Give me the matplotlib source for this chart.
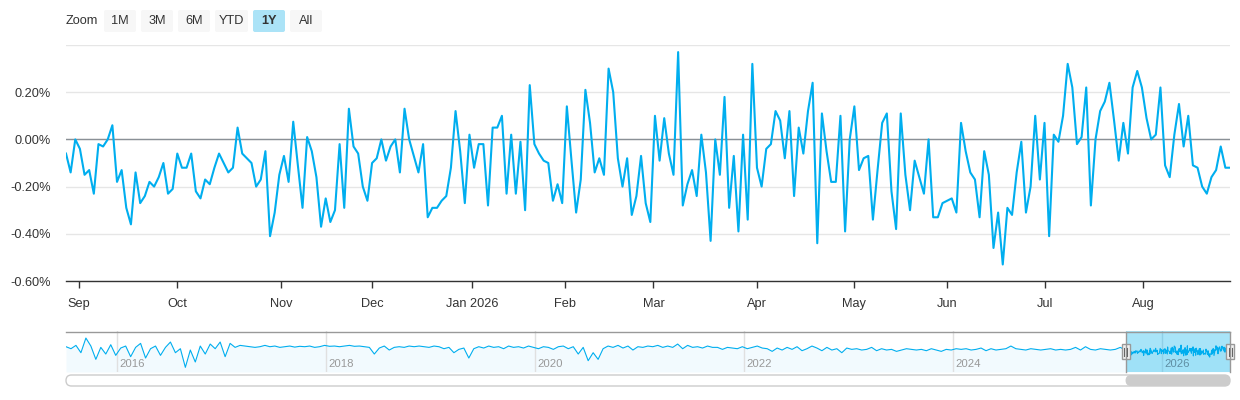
import numpy as np
import pandas as pd
import matplotlib
matplotlib.use('Agg')
import matplotlib.pyplot as plt
import matplotlib.dates as mdates
from matplotlib.patches import FancyBboxPatch, Rectangle

plt.rcParams['font.family'] = ['Liberation Sans', 'DejaVu Sans']

# daily spread in %, one value per NYSE trading day (27 Aug 2025 - 27 Aug 2026)
spread = [
    -0.06, -0.14, 0.00, -0.04, -0.15, -0.13, -0.23, -0.02, -0.03, 0.00, 0.06, -0.18,
    -0.13, -0.29, -0.36, -0.14, -0.27, -0.24, -0.18, -0.20, -0.16, -0.10, -0.23, -0.21,
    -0.06, -0.12, -0.12, -0.06, -0.22, -0.25, -0.17, -0.19, -0.12, -0.06, -0.10, -0.14,
    -0.12, 0.05, -0.06, -0.08, -0.10, -0.20,
    -0.17, -0.05, -0.41, -0.31, -0.15, -0.07, -0.18, 0.075, -0.11, -0.29, 0.01, -0.05,
    -0.16, -0.37, -0.25, -0.35, -0.30, -0.02, -0.29, 0.13, -0.03, -0.06, -0.20, -0.26,
    -0.10, -0.08, 0.00, -0.09, -0.03, 0.00, -0.14, 0.13, 0.00, -0.07, -0.14, -0.02,
    -0.33, -0.29, -0.29, -0.26, -0.24,
    -0.12, 0.12, -0.05, -0.27, 0.02, -0.12, -0.02, -0.02, -0.28, 0.05, 0.05, 0.10,
    -0.23, 0.02, -0.23, -0.01, -0.30, 0.23, -0.02, -0.06, -0.09, -0.10, -0.26, -0.19,
    -0.27, 0.14, -0.09, -0.31, -0.17, 0.21, 0.07, -0.14, -0.08, -0.15, 0.30, 0.20,
    -0.08, -0.20, -0.08, -0.32, -0.24,
    -0.07, -0.27, -0.35, 0.10, -0.09, 0.09, -0.06, -0.15, 0.37, -0.28, -0.19, -0.13,
    -0.24, 0.02, -0.14, -0.43, 0.00, -0.15, 0.18, -0.29, -0.07, -0.39, 0.02, -0.34,
    0.32, -0.12, -0.20, -0.04, -0.02, 0.12, 0.08, -0.08, 0.12, -0.24, 0.05, -0.06,
    0.12, 0.24, -0.44, 0.11, -0.05, -0.18,
    -0.18, 0.10, -0.39, 0.00, 0.14, -0.13, -0.08, -0.07, -0.34, -0.13, 0.07, 0.11,
    -0.22, -0.38, 0.11, -0.15, -0.30, -0.09, -0.16, -0.23, 0.00, -0.33, -0.33, -0.27,
    -0.26, -0.25, -0.31, 0.07, -0.05, -0.14, -0.17, -0.33, -0.05, -0.15, -0.46, -0.31,
    -0.53, -0.29, -0.32, -0.14, -0.01, -0.31,
    -0.20, 0.10, -0.17, 0.07, -0.41, 0.02, -0.01, 0.10, 0.32, 0.22, -0.02, 0.01,
    0.22, -0.28, 0.00, 0.12, 0.16, 0.24, 0.08, -0.09, 0.07, -0.06, 0.22, 0.29,
    0.22, 0.09, 0.00, 0.02, 0.22, -0.11, -0.16, 0.02, 0.15, -0.03, 0.10, -0.11,
    -0.12, -0.20, -0.23, -0.16, -0.13, -0.03, -0.12, -0.12,
]
holidays = ['2025-09-01', '2025-11-27', '2025-12-25', '2026-01-01', '2026-01-19',
            '2026-02-16', '2026-04-03', '2026-05-25', '2026-06-19', '2026-07-03']

month_labels = ['Sep', 'Oct', 'Nov', 'Dec', 'Jan 2026', 'Feb', 'Mar', 'Apr',
                'May', 'Jun', 'Jul', 'Aug']
y_ticks = [-0.6, -0.4, -0.2, 0.0, 0.2, 0.4]
nav_years = [2016, 2018, 2020, 2022, 2024, 2026]

# coarse history for the navigator (Jul 2015 - Aug 2025), %
history = [
    0.25, 0.1, 0.35, -0.2, 0.9, 0.3, -0.7, 0.2, -0.3, 0.4, -0.4, 0.15, 0.3, -0.5, 0.2,
    0.5, -0.6, 0.1, 0.3, -0.4, 0.2, 0.6, -0.2, 0.1, -1.3, 0.0, -0.9, 0.3, -0.3, 0.45,
    0.1, 0.6, -0.5, 0.5, 0.2, 0.35, 0.3, 0.25, 0.2, 0.25, 0.35,
    0.25, 0.3, 0.2, 0.25, 0.3, 0.22, 0.28, 0.25, 0.3, 0.2,
    0.25, 0.35, 0.28, 0.3, 0.25, 0.3, 0.35, 0.28, 0.3, 0.25,
    0.2, -0.3, 0.15, 0.3, 0.0, 0.2, 0.25, 0.2, 0.3, 0.25,
    0.3, 0.25, 0.2, 0.3, 0.25, 0.1, 0.2, -0.2, 0.05, 0.15,
    -0.6, 0.1, 0.25, 0.15, 0.3, 0.2, 0.25, 0.1, 0.3, 0.2,
    0.25, 0.15, 0.3, 0.2, 0.1, 0.25, 0.2, 0.05, 0.25, 0.3,
    0.1, 0.25, -0.3, 0.2, -0.8, -0.2, -0.7, 0.1, 0.3, 0.2,
    0.35, 0.15, 0.3, 0.0, 0.25, 0.2, 0.3, 0.25, 0.35, 0.2,
    0.3, 0.2, 0.45, 0.1, 0.35, 0.2, 0.25, 0.15, 0.3, 0.2,
    0.2, 0.05, 0.2, 0.15, 0.1, 0.25, 0.1, 0.2, 0.3, 0.15,
    0.1, -0.1, 0.15, 0.0, 0.2, 0.05, 0.25, -0.05, 0.1, 0.3,
    0.15, -0.05, 0.2, 0.0, 0.1, -0.2, 0.15, 0.05, 0.1, 0.0,
    0.05, 0.2, -0.05, 0.1, 0.0, 0.05, -0.1, 0.0, 0.1, 0.05,
    0.0, 0.05, -0.05, 0.1, 0.0, -0.1, 0.05, 0.0, 0.1, 0.05,
    0.1, 0.0, 0.05, 0.15, -0.05, 0.1, 0.0, 0.05, 0.1, 0.3,
    0.1, 0.05, 0.0, 0.1, 0.05, 0.0, 0.05, 0.1, 0.0, 0.05,
    0.0, 0.05, 0.2, 0.0, 0.25, 0.05, 0.0, 0.1, 0.05, 0.0,
    0.05, 0.2, 0.0,
]
buttons = ['1M', '3M', '6M', 'YTD', '1Y', 'All']
selected = '1Y'

blue = '#00aeef'
dark = '#333333'

dates = pd.bdate_range('2025-08-27', '2026-08-27', freq='C', holidays=holidays)
n = min(len(dates), len(spread))
dates = dates[:n]
spread = spread[:n]
idx = np.arange(n)
month_starts = pd.date_range('2025-09-01', '2026-08-01', freq='MS')
tick_pos = np.interp(month_starts.asi8, dates.asi8, idx)

W, H = 1240, 400
fig = plt.figure(figsize=(W / 100, H / 100), dpi=100)


def px_axes(x0, y0, x1, y1):
    return fig.add_axes([x0 / W, 1 - y1 / H, (x1 - x0) / W, (y1 - y0) / H])


# ---- main chart ----
ax = px_axes(66, 45, 1230, 281)
ax.plot(idx, spread, color=blue, lw=1.5, zorder=3)
ax.axhline(0, color='#8a9096', lw=1, zorder=2)
ax.set_xlim(0, n - 1)
ax.set_ylim(-0.6, 0.4)
ax.set_yticks(y_ticks, [f'{v:.2f}%' if v < 0.3 else '' for v in y_ticks])
ax.yaxis.grid(True, color='#e6e6e6', lw=1)
ax.set_axisbelow(True)
ax.set_xticks(tick_pos, month_labels)
ax.tick_params(axis='y', length=0, pad=11, labelsize=9.2, labelcolor=dark)
ax.tick_params(axis='x', length=5, width=1, color=dark, pad=7,
               labelsize=9.2, labelcolor=dark)
for s in ['top', 'right', 'left']:
    ax.spines[s].set_visible(False)
ax.spines['bottom'].set_color(dark)
ax.spines['bottom'].set_linewidth(1)

# ---- navigator ----
nav = px_axes(66, 331, 1230, 372)
hist_dates = pd.date_range('2015-07-08', '2025-08-26', periods=len(history))
all_dates = hist_dates.append(dates)
all_vals = list(history) + list(spread)
nav_lo, nav_hi = -1.65, 1.43
nav.fill_between(all_dates, all_vals, nav_lo, color=blue, alpha=0.05, lw=0, zorder=1)
nav.axvspan(dates[0], dates[-1], color='#a8e4f8', lw=0, zorder=0.5)
nav.plot(all_dates, all_vals, color=blue, lw=0.8, zorder=3)
for yr in nav_years:
    d = pd.Timestamp(f'{yr}-01-01')
    inside = d >= dates[0]
    nav.axvline(d, color='#8fcfe6' if inside else '#e0e0e0', lw=1, zorder=2)
    nav.text(d + pd.Timedelta(days=10), 0.2, str(yr), transform=nav.get_xaxis_transform(),
             ha='left', va='center', fontsize=8.2,
             color='#5f8ea3' if inside else '#999999', zorder=4)
nav.set_xlim(pd.Timestamp('2015-07-08'), dates[-1])
nav.set_ylim(nav_lo, nav_hi)
nav.set_xticks([])
nav.set_yticks([])
for s in nav.spines.values():
    s.set_visible(False)

sel_x0 = nav.transData.transform((mdates.date2num(dates[0]), 0))[0]
sel_x1 = nav.transData.transform((mdates.date2num(dates[-1]), 0))[0]

# ---- overlay in pixel coordinates: buttons, outline, handles, scrollbar ----
ov = fig.add_axes([0, 0, 1, 1], facecolor='none')
ov.set_xlim(0, W)
ov.set_ylim(H, 0)
ov.axis('off')

ov.text(66, 21.5, 'Zoom', ha='left', va='center', fontsize=9.2, color=dark)
bx = 104
for b in buttons:
    bw = 32 if b != 'YTD' else 33
    fc = '#abe3f7' if b == selected else '#f7f7f7'
    ov.add_patch(FancyBboxPatch((bx, 10), bw, 22, boxstyle='round,pad=0,rounding_size=2',
                                fc=fc, ec='none'))
    ov.text(bx + bw / 2, 21.5, b, ha='center', va='center', fontsize=9.2, color=dark,
            fontweight='bold' if b == selected else 'normal')
    bx += bw + 5

# navigator outline
ov.plot([66, 1230], [331.5, 331.5], color='#999999', lw=1)
ov.plot([sel_x0, sel_x0], [331.5, 372], color='#999999', lw=1)
ov.plot([sel_x1, sel_x1], [331.5, 372], color='#999999', lw=1)

# handles
for hx in [sel_x0, sel_x1]:
    ov.add_patch(Rectangle((hx - 4, 344), 8, 15, fc='#f2f2f2', ec='#999999', lw=1))
    ov.plot([hx - 1.5, hx - 1.5], [347.5, 355.5], color='#666666', lw=0.8)
    ov.plot([hx + 1.5, hx + 1.5], [347.5, 355.5], color='#666666', lw=0.8)

# scrollbar
ov.add_patch(FancyBboxPatch((66, 375), 1164, 11, boxstyle='round,pad=0,rounding_size=5.5',
                            fc='white', ec='#cccccc', lw=1))
ov.add_patch(FancyBboxPatch((sel_x0, 375), sel_x1 - sel_x0, 11,
                            boxstyle='round,pad=0,rounding_size=5.5',
                            fc='#cccccc', ec='none'))

fig.savefig('out.png', dpi=100, facecolor='white')
